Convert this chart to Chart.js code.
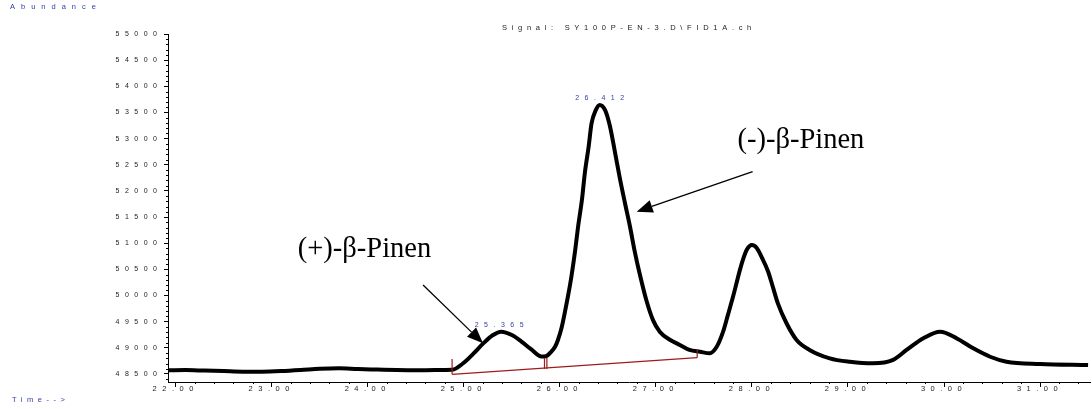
<!DOCTYPE html>
<html>
<head>
<meta charset="utf-8">
<script src="https://cdn.jsdelivr.net/npm/chart.js@4.4.1/dist/chart.umd.min.js"></script>
<style>
html, body { margin: 0; padding: 0; background: #fff; }
#wrap { width: 1092px; height: 409px; }
</style>
</head>
<body>
<div id="wrap"><canvas id="gcChart" width="1092" height="409"></canvas></div>
<script>
// retention time (min) and FID abundance
var retTime = [21.93, 22.1, 22.3, 22.5, 22.7, 22.9, 23.1, 23.3, 23.5, 23.7, 23.9, 24.1, 24.3, 24.5, 24.7, 24.88,
    24.99, 25.10, 25.20, 25.30, 25.39, 25.50, 25.60, 25.70, 25.81, 25.855, 25.91, 25.95, 25.98,
    26.02, 26.05, 26.09, 26.12, 26.16, 26.19, 26.23, 26.26, 26.30, 26.33, 26.375, 26.415, 26.47,
    26.52, 26.57, 26.625, 26.68, 26.73, 26.78, 26.83, 26.90, 26.97, 27.04, 27.15, 27.25, 27.35,
    27.46, 27.56, 27.63, 27.70, 27.75, 27.805, 27.84, 27.875, 27.91, 27.945, 28.00, 28.05, 28.10,
    28.17, 28.22, 28.27, 28.36, 28.465, 28.60, 28.81, 29.02, 29.26, 29.47, 29.61, 29.785, 29.96,
    30.13, 30.305, 30.48, 30.65, 31.0, 31.5];
var abundance = [48570, 48575, 48565, 48555, 48545, 48545, 48555, 48575, 48600, 48610, 48595, 48585, 48575, 48570, 48575, 48580,
    48700, 48890, 49080, 49240, 49310, 49245, 49120, 48975, 48835, 48840, 48925, 49020, 49150,
    49400, 49660, 50040, 50360, 50870, 51320, 51830, 52340, 52850, 53290, 53550, 53645, 53550,
    53250, 52780, 52240, 51750, 51320, 50840, 50425, 49915, 49530, 49310, 49150, 49055, 48960,
    48925, 48895, 49010, 49310, 49630, 49990, 50240, 50490, 50705, 50870, 50965, 50910, 50740,
    50450, 50150, 49850, 49470, 49150, 48960, 48800, 48735, 48705, 48770, 48960, 49185, 49310,
    49185, 48990, 48830, 48735, 48690, 48670];

// integration baseline and its start / split / end markers
var baseTime = [24.878, 27.43];
var baseAbund = [48494, 48812];
var markTime = [24.878, 25.84, 25.865, 27.43];
var markLow = [48494, 48594, 48596, 48812];
var markHigh = [48787, 48806, 48806, 48959];

// integrated peak labels
var peakTime = [25.365, 26.412];
var peakTop = [49310, 53645];
var peakText = ['25.365', '26.412'];

// compound annotations: label (centre, baseline) and arrow (start -> tip)
var compoundName = ['(+)-\u03b2-Pinen', '(-)-\u03b2-Pinen'];
var nameTime = [23.966, 28.51];
var nameAbund = [50731, 52815];
var arrowFromTime = [24.576, 28.007];
var arrowFromAbund = [50202, 52368];
var arrowToTime = [25.20, 26.80];
var arrowToAbund = [49087, 51603];

// axis ranges and major tick values
var xMin = 21.92, xMax = 31.52;
var yMin = 48347, yMax = 55000;
var yTickValues = [48500, 49000, 49500, 50000, 50500, 51000, 51500, 52000, 52500, 53000, 53500, 54000, 54500, 55000];
var xTickValues = [22, 23, 24, 25, 26, 27, 28, 29, 30, 31];

var traceData = [];
for (var i = 0; i < retTime.length; i++) {
    traceData.push({x: retTime[i], y: abundance[i]});
}
var baseData = [];
for (var i = 0; i < baseTime.length; i++) {
    baseData.push({x: baseTime[i], y: baseAbund[i]});
}
var markData = [];
for (var i = 0; i < markTime.length; i++) {
    markData.push({x: markTime[i], y: markLow[i]});
    markData.push({x: markTime[i], y: markHigh[i]});
    markData.push({x: markTime[i], y: null});
}

var blueText = '#3340a8';
var tickFont = '7px "Liberation Sans", Arial, sans-serif';

function drawArrow(ctx, x1, y1, x2, y2) {
    var ang = Math.atan2(y2 - y1, x2 - x1);
    var len = 16, half = 6.5;
    var bx = x2 - len * Math.cos(ang), by = y2 - len * Math.sin(ang);
    ctx.beginPath();
    ctx.moveTo(x1, y1);
    ctx.lineTo(bx, by);
    ctx.stroke();
    ctx.beginPath();
    ctx.moveTo(x2, y2);
    ctx.lineTo(bx + half * Math.sin(ang), by - half * Math.cos(ang));
    ctx.lineTo(bx - half * Math.sin(ang), by + half * Math.cos(ang));
    ctx.closePath();
    ctx.fill();
}

var chromPlugin = {
    id: 'chromPlugin',
    beforeDraw: function (chart) {
        chart.ctx.letterSpacing = '5.5px';
    },
    afterDraw: function (chart) {
        var ctx = chart.ctx;
        var xs = chart.scales.x, ys = chart.scales.y;
        var area = chart.chartArea;
        ctx.save();

        // minor ticks
        ctx.strokeStyle = '#000';
        ctx.lineWidth = 1;
        ctx.beginPath();
        for (var v = 48400; v <= yMax; v += 100) {
            if (v % 500 === 0) continue;
            var py = Math.round(ys.getPixelForValue(v)) + 0.5;
            ctx.moveTo(area.left - 2, py);
            ctx.lineTo(area.left, py);
        }
        for (var k = 0; k <= 47; k++) {
            var t = 22 + k * 0.2;
            if (k % 5 === 0 || t > xMax) continue;
            var px = Math.round(xs.getPixelForValue(t)) + 0.5;
            ctx.moveTo(px, area.bottom);
            ctx.lineTo(px, area.bottom + 2);
        }
        ctx.stroke();

        // peak retention-time labels
        ctx.font = tickFont;
        ctx.letterSpacing = '5.5px';
        ctx.fillStyle = blueText;
        ctx.textAlign = 'center';
        ctx.textBaseline = 'bottom';
        for (var j = 0; j < peakTime.length; j++) {
            ctx.fillText(peakText[j], xs.getPixelForValue(peakTime[j]) + 3, ys.getPixelForValue(peakTop[j]) - 3);
        }

        // header texts
        ctx.textBaseline = 'middle';
        ctx.font = '7.5px "Liberation Sans", Arial, sans-serif';
        ctx.letterSpacing = '6px';
        ctx.textAlign = 'left';
        ctx.fillText('Abundance', 10, 7);
        ctx.letterSpacing = '4.5px';
        ctx.fillText('Time-->', 12, 400);
        ctx.fillStyle = '#222';
        ctx.letterSpacing = '4.7px';
        ctx.textAlign = 'center';
        ctx.fillText('Signal: SY100P-EN-3.D\\FID1A.ch', 629, 28);

        // compound names and arrows
        ctx.letterSpacing = '0px';
        ctx.fillStyle = '#000';
        ctx.strokeStyle = '#000';
        ctx.lineWidth = 1.3;
        ctx.font = '28.5px "Liberation Serif", "Times New Roman", serif';
        ctx.textBaseline = 'alphabetic';
        for (var n = 0; n < compoundName.length; n++) {
            ctx.fillText(compoundName[n], xs.getPixelForValue(nameTime[n]), ys.getPixelForValue(nameAbund[n]));
            drawArrow(ctx,
                xs.getPixelForValue(arrowFromTime[n]), ys.getPixelForValue(arrowFromAbund[n]),
                xs.getPixelForValue(arrowToTime[n]), ys.getPixelForValue(arrowToAbund[n]));
        }
        ctx.restore();
    }
};

var chromChart = new Chart(document.getElementById('gcChart'), {
    type: 'line',
    data: {
        datasets: [{
            label: 'markers',
            data: markData,
            borderColor: '#9e1b1b',
            borderWidth: 1.2,
            pointRadius: 0,
            spanGaps: false
        }, {
            label: 'baseline',
            data: baseData,
            borderColor: '#9e1b1b',
            borderWidth: 1.2,
            pointRadius: 0
        }, {
            label: 'FID1A',
            data: traceData,
            borderColor: '#000',
            borderWidth: 4,
            pointRadius: 0,
            cubicInterpolationMode: 'monotone'
        }]
    },
    options: {
        responsive: false,
        animation: false,
        layout: { padding: { top: 34, right: 2, left: 0, bottom: 0 } },
        plugins: {
            legend: { display: false },
            tooltip: { enabled: false }
        },
        scales: {
            x: {
                type: 'linear',
                min: xMin,
                max: xMax,
                afterFit: function (s) { s.height = 27; },
                afterBuildTicks: function (s) {
                    s.ticks = xTickValues.map(function (v) { return {value: v}; });
                },
                grid: { display: true, drawOnChartArea: false, drawTicks: true, tickLength: 5, color: '#000' },
                border: { display: true, color: '#000', width: 1 },
                ticks: {
                    autoSkip: false,
                    maxRotation: 0,
                    padding: -3,
                    color: '#222',
                    font: { family: '"Liberation Sans", Arial, sans-serif', size: 7.5 },
                    callback: function (v) { return Number(v).toFixed(2); }
                }
            },
            y: {
                min: yMin,
                max: yMax,
                afterFit: function (s) { s.width = 168; },
                afterBuildTicks: function (s) {
                    s.ticks = yTickValues.map(function (v) { return {value: v}; });
                },
                grid: { display: true, drawOnChartArea: false, drawTicks: true, tickLength: 4, color: '#000' },
                border: { display: true, color: '#000', width: 1 },
                ticks: {
                    autoSkip: false,
                    padding: 1.5,
                    color: '#222',
                    font: { family: '"Liberation Sans", Arial, sans-serif', size: 7 },
                    callback: function (v) { return String(v); }
                }
            }
        }
    },
    plugins: [chromPlugin]
});
</script>
</body>
</html>
